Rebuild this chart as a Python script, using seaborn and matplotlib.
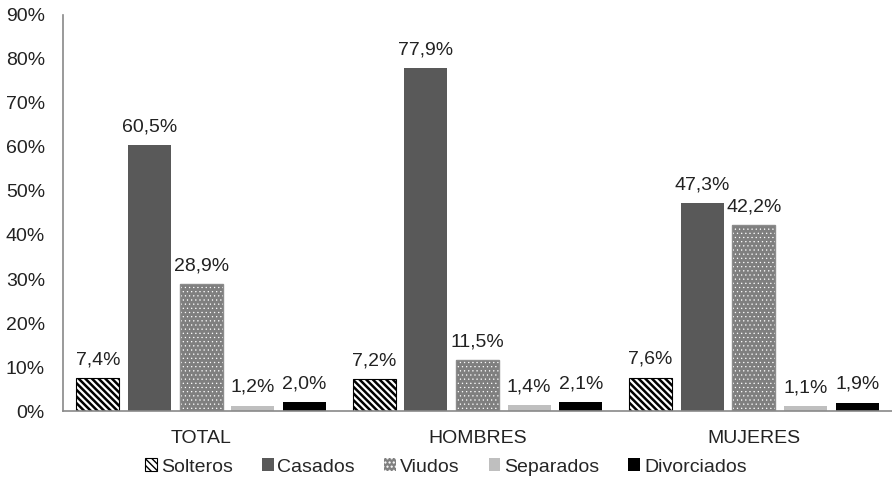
import matplotlib
matplotlib.use("Agg")
import matplotlib.pyplot as plt
import matplotlib.patches as mpatches
import pandas as pd
import seaborn as sns

groups = ["TOTAL", "HOMBRES", "MUJERES"]
estados = ["Solteros", "Casados", "Viudos", "Separados", "Divorciados"]
solteros = [7.4, 7.2, 7.6]
casados = [60.5, 77.9, 47.3]
viudos = [28.9, 11.5, 42.2]
separados = [1.2, 1.4, 1.1]
divorciados = [2.0, 2.1, 1.9]

series = [solteros, casados, viudos, separados, divorciados]
rows = []
for est, vals in zip(estados, series):
    for g, v in zip(groups, vals):
        rows.append({"grupo": g, "estado": est, "valor": v})
df = pd.DataFrame(rows)

sns.set_style("white")
plt.rcParams["font.family"] = ["Liberation Sans", "DejaVu Sans"]

face = {"Solteros": "white", "Casados": "#595959", "Viudos": "#7f7f7f",
        "Separados": "#bfbfbf", "Divorciados": "black"}
hatch = {"Solteros": "\\\\\\\\\\", "Viudos": "...."}
hatch_lw = {"Solteros": 1.8, "Viudos": 0.4}
edge = {"Solteros": "black", "Casados": "#595959", "Viudos": "white",
        "Separados": "#bfbfbf", "Divorciados": "black"}

fig = plt.figure(figsize=(8.92, 4.91), dpi=100)
ax = fig.add_axes([63 / 892, 80 / 491, 829 / 892, 396 / 491])

sns.barplot(data=df, x="grupo", y="valor", hue="estado", order=groups,
            hue_order=estados, palette=face, width=0.935, gap=0.17,
            legend=False, ax=ax, saturation=1)


def style_patch(p, est):
    p.set_facecolor(face[est])
    p.set_edgecolor(edge[est])
    p.set_linewidth(0.8 if est == "Solteros" else 0)
    if est in hatch:
        p.set_hatch(hatch[est])
        if hasattr(p, "set_hatch_linewidth"):
            p.set_hatch_linewidth(hatch_lw[est])


for container, est in zip(ax.containers, estados):
    for bar in container:
        style_patch(bar, est)
    labels = [f"{v:.1f}%".replace(".", ",") for v in container.datavalues]
    ax.bar_label(container, labels=labels, padding=7, fontsize=14, color="#222222")

# grey outline round the dotted bars
for bar in ax.containers[2]:
    ax.add_patch(mpatches.Rectangle(bar.get_xy(), bar.get_width(), bar.get_height(),
                                    fill=False, edgecolor="#8c8c8c", linewidth=1))

ax.set_xlim(-0.5, 2.5)
ax.set_ylim(0, 90)
ax.set_yticks(range(0, 91, 10))
ax.set_yticklabels([f"{t}%" for t in range(0, 91, 10)])
ax.set_xlabel("")
ax.set_ylabel("")
ax.tick_params(axis="both", labelsize=14, length=0, colors="#222222")
ax.tick_params(axis="y", pad=13)
ax.tick_params(axis="x", pad=14)
ax.set_xticks([0.5, 1.5], minor=True)
ax.tick_params(axis="x", which="minor", length=4, color="#898989", width=1)
for s in ["top", "right"]:
    ax.spines[s].set_visible(False)
for s in ["left", "bottom"]:
    ax.spines[s].set_color("#898989")
    ax.spines[s].set_linewidth(1.2)

handles = []
for est in estados:
    h = mpatches.Patch(facecolor=face[est], edgecolor=edge[est], hatch=hatch.get(est),
                       linewidth=0.8 if est == "Solteros" else 0, label=est)
    if est in hatch and hasattr(h, "set_hatch_linewidth"):
        h.set_hatch_linewidth(hatch_lw[est])
    handles.append(h)
fig.legend(handles=handles, loc="center", bbox_to_anchor=(0.5, 1 - 467 / 491),
           ncol=5, frameon=False, fontsize=14, handlelength=0.6,
           handleheight=0.6, handletextpad=0.2, columnspacing=1.5)

fig.savefig("out.png", dpi=100)
